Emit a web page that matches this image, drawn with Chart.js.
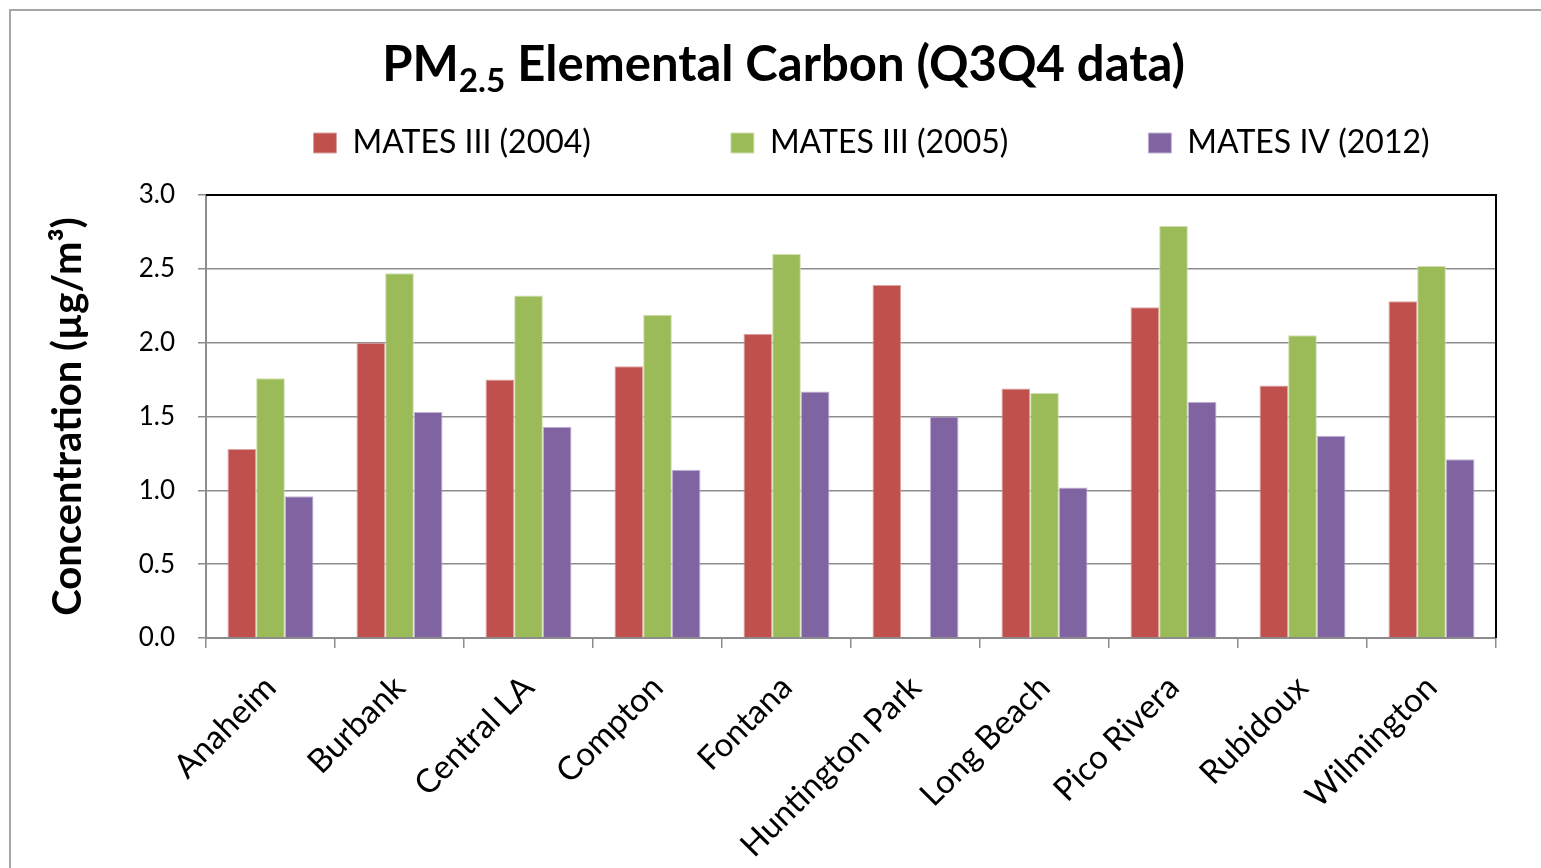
<!DOCTYPE html>
<html>
<head>
<meta charset="utf-8">
<title>PM2.5 Elemental Carbon (Q3Q4 data)</title>
<script src="https://cdn.jsdelivr.net/npm/chart.js@4.4.1/dist/chart.umd.min.js"></script>
<style>
  html, body { margin: 0; padding: 0; background: #fff; overflow: hidden; }
  #frame { position: absolute; left: 9px; top: 9px; width: 1650px; height: 950px; border: 2px solid #a6a6a6; box-sizing: border-box; }
  #wrap { position: absolute; left: 0; top: 0; width: 1743px; height: 868px; }
  #title { position: absolute; left: 0; top: 38px; width: 1567px; text-align: center; color: #000;
           font: bold 49px Lato, sans-serif; line-height: 49px; }
  #title sub { font-size: 0.68em; vertical-align: -0.32em; line-height: 0; }
</style>
</head>
<body>
<div id="frame"></div>
<div id="wrap"><canvas id="grafico-pm25"></canvas></div>
<div id="title">PM<sub>2.5</sub> Elemental Carbon (Q3Q4 data)</div>
<script>
var sites = ["Anaheim", "Burbank", "Central LA", "Compton", "Fontana", "Huntington Park", "Long Beach", "Pico Rivera", "Rubidoux", "Wilmington"];
var mates2004 = [1.28, 2.00, 1.75, 1.84, 2.06, 2.39, 1.69, 2.24, 1.71, 2.28];
var mates2005 = [1.76, 2.47, 2.32, 2.19, 2.60, null, 1.66, 2.79, 2.05, 2.52];
var mates2012 = [0.96, 1.53, 1.43, 1.14, 1.67, 1.50, 1.02, 1.60, 1.37, 1.21];
var yTicks = [0, 0.5, 1.0, 1.5, 2.0, 2.5, 3.0];

var fonte = "Lato, 'Open Sans', sans-serif";
var cinza = '#8c8c8c';
var larguraCanvas = 1743;

// top and right edge of the plot area
var bordaPlot = {
    id: 'bordaPlot',
    afterDatasetsDraw: function (chart) {
        var a = chart.chartArea, c = chart.ctx;
        c.save();
        c.strokeStyle = '#000';
        c.lineWidth = 2;
        c.beginPath();
        c.moveTo(a.left, a.top);
        c.lineTo(a.right, a.top);
        c.lineTo(a.right, a.bottom);
        c.stroke();
        c.restore();
    }
};

var ctx = document.getElementById("grafico-pm25");

var myBarChart = new Chart(ctx, {
    type: 'bar',
    data: {
        labels: sites,
        datasets: [
            {
                label: 'MATES III (2004)',
                data: mates2004,
                backgroundColor: '#C0504D',
                borderColor: '#dba5a4',
                borderWidth: 1
            },
            {
                label: 'MATES III (2005)',
                data: mates2005,
                backgroundColor: '#9BBB59',
                borderColor: '#cfe0ae',
                borderWidth: 1
            },
            {
                label: 'MATES IV (2012)',
                data: mates2012,
                backgroundColor: '#8064A2',
                borderColor: '#c3b4d6',
                borderWidth: 1
            }
        ]
    },
    options: {
        responsive: true,
        maintainAspectRatio: false,
        animation: false,
        categoryPercentage: 3 / 4.5,
        barPercentage: 1,
        layout: { padding: { top: -13, left: 0, right: 0, bottom: 0 } },
        plugins: {
            legend: {
                position: 'top',
                align: 'center',
                labels: {
                    boxWidth: 23,
                    boxHeight: 20,
                    padding: 140,
                    color: '#000',
                    font: { family: fonte, size: 32 }
                }
            },
            subtitle: {
                display: true,
                text: '',
                position: 'top',
                weight: 500,
                padding: 0,
                font: { size: 21.7 }
            },
            title: { display: false },
            tooltip: { enabled: false }
        },
        scales: {
            x: {
                grid: {
                    offset: true,
                    drawOnChartArea: false,
                    drawTicks: true,
                    tickLength: 10,
                    color: cinza,
                    lineWidth: 1.5
                },
                border: { color: cinza, width: 2 },
                ticks: {
                    color: '#000',
                    font: { family: fonte, size: 33 },
                    minRotation: 45,
                    maxRotation: 45,
                    padding: 20,
                    autoSkip: false
                },
                afterFit: function (s) { s.height = 230; }
            },
            y: {
                min: 0,
                max: 3,
                afterBuildTicks: function (s) {
                    s.ticks = yTicks.map(function (v) { return { value: v }; });
                },
                grid: {
                    color: function (c) { return c.tick && c.tick.value === 3 ? '#000' : cinza; },
                    tickColor: cinza,
                    lineWidth: 1.5,
                    tickLength: 8
                },
                border: { color: cinza, width: 2 },
                ticks: {
                    color: '#000',
                    padding: 23,
                    font: { family: fonte, size: 26 },
                    callback: function (v) { return Number(v).toFixed(1); }
                },
                title: {
                    display: true,
                    text: 'Concentration (µg/m³)',
                    color: '#000',
                    font: { family: fonte, size: 40, weight: 'bold' },
                    padding: { top: 44, bottom: 0 }
                },
                afterFit: function (s) { s.width = 206; }
            },
            y2: {
                position: 'right',
                min: 0,
                max: 3,
                grid: { drawOnChartArea: false, drawTicks: false },
                border: { display: false },
                ticks: { display: false },
                afterFit: function (s) { s.width = larguraCanvas - 1496; }
            }
        }
    },
    plugins: [bordaPlot]
});
</script>
</body>
</html>
